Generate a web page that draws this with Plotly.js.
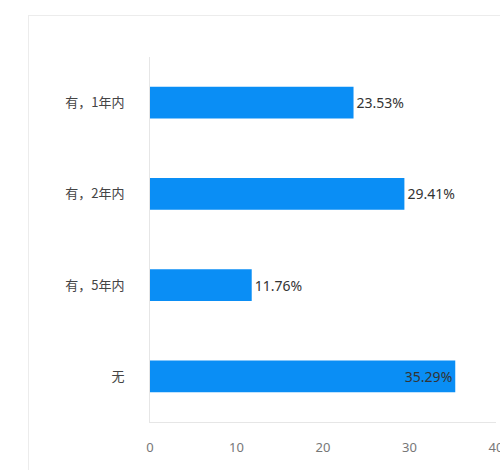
<!DOCTYPE html>
<html><head><meta charset="utf-8">
<script src="https://cdn.plot.ly/plotly-3.0.1.min.js"></script>
<style>
html,body{margin:0;padding:0;background:#fff;overflow:hidden;}
#frame{position:absolute;left:28px;top:15px;width:480px;height:470px;border-top:1px solid #ececec;border-left:1px solid #ececec;}
#chart{position:absolute;left:0;top:0;width:500px;height:470px;}
</style></head>
<body>
<div id="frame"></div>
<div id="chart"></div>
<script>
const categories = ["有，1年内", "有，2年内", "有，5年内", "无"];
const values = [23.53, 29.41, 11.76, 35.29];
const labels = ["23.53%", "29.41%", "11.76%", "35.29%"];
const labelPositions = ["outside", "outside", "outside", "inside"];
const xTicks = [0, 10, 20, 30, 40];

const valFont = {family: "Noto Sans, Noto Sans CJK SC, sans-serif", size: 14, color: "#333"};
Plotly.newPlot("chart", [{
  type: "bar",
  orientation: "h",
  y: categories,
  x: values,
  text: labels,
  textposition: labelPositions,
  insidetextanchor: "end",
  textfont: valFont,
  insidetextfont: valFont,
  outsidetextfont: valFont,
  constraintext: "none",
  cliponaxis: false,
  marker: {color: "#0a8ef5"},
  width: 0.35,
  hoverinfo: "none"
}], {
  width: 500, height: 470,
  margin: {l: 150, r: 4, t: 57, b: 48},
  paper_bgcolor: "rgba(0,0,0,0)",
  plot_bgcolor: "rgba(0,0,0,0)",
  showlegend: false,
  font: {family: "Noto Sans CJK SC, sans-serif", color: "#555", size: 12},
  xaxis: {
    range: [0, 40], tickvals: xTicks, ticktext: xTicks.map(String),
    showgrid: false, zeroline: false,
    showline: true, linecolor: "#e6e6e6", linewidth: 1,
    ticks: "outside", ticklen: 13, tickcolor: "rgba(0,0,0,0)",
    ticklabeloverflow: "allow",
    tickfont: {family: "Noto Sans, sans-serif", size: 13, color: "#777"},
    fixedrange: true
  },
  yaxis: {
    categoryorder: "array", categoryarray: categories, autorange: "reversed",
    showgrid: false, zeroline: false,
    showline: true, linecolor: "#e6e6e6", linewidth: 1,
    ticks: "outside", ticklen: 22, tickcolor: "rgba(0,0,0,0)",
    tickfont: {family: "Noto Sans CJK SC, sans-serif", size: 13, color: "#444"},
    fixedrange: true
  }
}, {displayModeBar: false, staticPlot: true});
</script>
</body></html>
